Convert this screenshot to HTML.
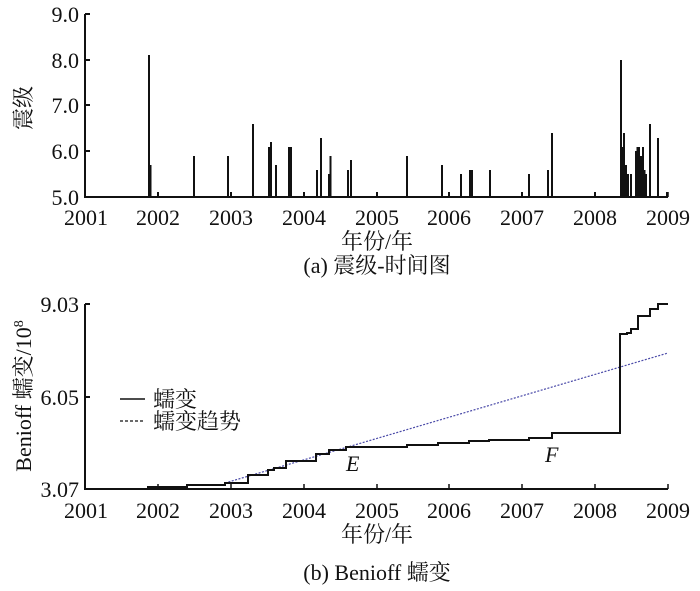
<!DOCTYPE html>
<html><head><meta charset="utf-8"><style>
body{margin:0;background:#fff;}
svg text{font-family:"Liberation Serif","Noto Serif CJK SC",serif;fill:#111;}
</style></head><body>
<svg width="700" height="586" viewBox="0 0 700 586" xmlns="http://www.w3.org/2000/svg">
<g stroke="#111" stroke-width="2" fill="none">
<path d="M85,14 V197 H668"/>
<path d="M85,14 h5 M85,60 h5 M85,105 h5 M85,151 h5"/>
<path d="M85,304 V489 H668"/>
<path d="M85,304 h5 M85,397 h5"/>
<path d="M158,197 v-5 M231,197 v-5 M304,197 v-5 M377,197 v-5 M449,197 v-5 M522,197 v-5 M595,197 v-5 M668,197 v-5" stroke-width="1.5"/>
<path d="M158,489 v-5 M231,489 v-5 M304,489 v-5 M377,489 v-5 M449,489 v-5 M522,489 v-5 M595,489 v-5 M668,489 v-5" stroke-width="1.5"/>
</g>
<path stroke="#111" stroke-width="2" fill="none" d="
M149,197V55 M150.5,197V165 M158,197V192 M194,197V156 M228,197V156 M231,197V192 M253,197V124 M269,197V147 M271,197V142 M276,197V165
M289,197V147 M291,197V147 M304,197V192 M317,197V170 M321,197V138 M329,197V174 M330.5,197V156 M348,197V170 M351,197V160 M377,197V192
M407,197V156 M442,197V165 M449,197V192 M461,197V174 M470,197V170 M472,197V170 M490,197V170 M522,197V192 M529,197V174 M548,197V170
M552,197V133 M595,197V192 M621,197V60 M622.5,197V147 M624,197V133 M626,197V165 M628,197V174 M631,197V174 M636,197V151 M637.5,197V147
M639,197V147 M641,197V156 M643,197V147 M644.5,197V170 M646,197V174 M650,197V124 M658,197V138 M667,197V192"/>
<line x1="225" y1="483" x2="668" y2="353" stroke="#4a4aa8" stroke-width="1.2" stroke-dasharray="2,1.5"/>
<path d="M147,487 H187 V485 H225 V483 H248 V475 H268 V470 H274 V468 H286 V461 H316 V454 H329 V450 H346 V447 H407 V445 H438 V443 H469 V441 H489 V440 H529 V438 H552 V433 H620 V334 H627 V333 H631 V329 H638 V316 H650 V309 H658 V304 H668" fill="none" stroke="#111" stroke-width="2"/>
<g font-size="22" text-anchor="end">
<text x="79" y="22">9.0</text><text x="79" y="68">8.0</text><text x="79" y="113">7.0</text><text x="79" y="159">6.0</text><text x="79" y="205">5.0</text>
<text x="79" y="312">9.03</text><text x="79" y="405">6.05</text><text x="79" y="497">3.07</text>
</g>
<g font-size="22" text-anchor="middle">
<text x="86" y="225">2001</text><text x="158" y="225">2002</text><text x="231" y="225">2003</text><text x="304" y="225">2004</text><text x="377" y="225">2005</text><text x="449" y="225">2006</text><text x="522" y="225">2007</text><text x="595" y="225">2008</text><text x="668" y="225">2009</text>
<text x="86" y="518">2001</text><text x="158" y="518">2002</text><text x="231" y="518">2003</text><text x="304" y="518">2004</text><text x="377" y="518">2005</text><text x="449" y="518">2006</text><text x="522" y="518">2007</text><text x="595" y="518">2008</text><text x="668" y="518">2009</text>
<text x="377" y="249">年份/年</text>
<text x="377" y="273">(a) 震级-时间图</text>
<text x="377" y="542">年份/年</text>
<text x="377" y="580">(b) Benioff 蠕变</text>
<text transform="translate(31,108) rotate(-90)">震级</text>
<text transform="translate(31,396) rotate(-90)">Benioff 蠕变/10<tspan font-size="14" dy="-8">8</tspan></text>
</g>
<line x1="120" y1="399" x2="145" y2="399" stroke="#111" stroke-width="1.5"/>
<line x1="120" y1="421" x2="145" y2="421" stroke="#111" stroke-width="1.2" stroke-dasharray="3,2"/>
<g font-size="22"><text x="153" y="407">蠕变</text><text x="153" y="429">蠕变趋势</text>
<text x="346" y="471" font-style="italic">E</text><text x="545" y="462" font-style="italic">F</text></g>
</svg>
</body></html>
